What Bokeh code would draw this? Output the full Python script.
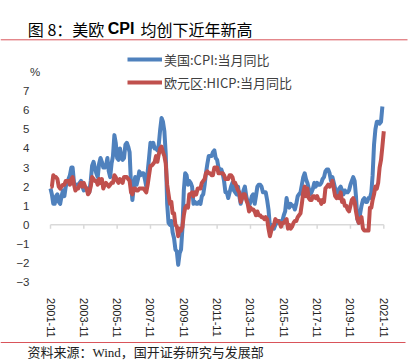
import numpy as np
from bokeh.plotting import figure
from bokeh.models import (Range1d, DatetimeAxis, LinearAxis, FixedTicker,
                          DatetimeTickFormatter, Legend, LegendItem, Label,
                          ColumnDataSource)
from bokeh.embed import file_html
from bokeh.resources import INLINE

# ---------------- data ----------------
start_month = "2001-11"
# US CPI YoY (%), monthly 2001-11 .. 2021-10
us_cpi = [1.9, 1.6,
          1.1, 1.1, 1.5, 1.6, 1.2, 1.1, 1.5, 1.8, 1.5, 2.0, 2.2, 2.4,
          2.6, 3.0, 3.0, 2.2, 2.1, 2.1, 2.1, 2.2, 2.3, 2.0, 1.8, 1.9,
          1.9, 1.7, 1.7, 2.3, 3.1, 3.3, 3.0, 2.7, 2.5, 3.2, 3.5, 3.3,
          3.0, 3.0, 3.1, 3.5, 2.8, 2.5, 3.2, 3.6, 4.7, 4.3, 3.5, 3.4,
          4.0, 3.6, 3.4, 3.5, 4.2, 4.3, 4.1, 3.8, 2.1, 1.3, 2.0, 2.5,
          2.1, 2.4, 2.8, 2.6, 2.7, 2.7, 2.4, 2.0, 2.8, 3.5, 4.3, 4.1,
          4.3, 4.0, 4.0, 3.9, 4.2, 5.0, 5.6, 5.4, 4.9, 3.7, 1.1, 0.1,
          0.0, 0.2, -0.4, -0.7, -1.3, -1.4, -2.1, -1.5, -1.3, -0.2, 1.8, 2.7,
          2.6, 2.1, 2.3, 2.2, 2.0, 1.1, 1.2, 1.1, 1.1, 1.2, 1.1, 1.5,
          1.6, 2.1, 2.7, 3.2, 3.6, 3.6, 3.6, 3.8, 3.9, 3.5, 3.4, 3.0,
          2.9, 2.9, 2.7, 2.3, 1.7, 1.7, 1.4, 1.7, 2.0, 2.2, 1.8, 1.7,
          1.6, 2.0, 1.5, 1.1, 1.4, 1.8, 2.0, 1.5, 1.2, 1.0, 1.2, 1.5,
          1.6, 1.1, 1.5, 2.0, 2.1, 2.1, 2.0, 1.7, 1.7, 1.7, 1.3, 0.8,
          -0.1, 0.0, -0.1, -0.2, 0.0, 0.1, 0.2, 0.2, 0.0, 0.2, 0.5, 0.7,
          1.4, 1.0, 0.9, 1.1, 1.0, 1.0, 0.8, 1.1, 1.5, 1.6, 1.7, 2.1,
          2.5, 2.7, 2.4, 2.2, 1.9, 1.6, 1.7, 1.9, 2.2, 2.0, 2.2, 2.1,
          2.1, 2.2, 2.4, 2.5, 2.8, 2.9, 2.9, 2.7, 2.3, 2.5, 2.2, 1.9,
          1.6, 1.5, 1.9, 2.0, 1.8, 1.6, 1.8, 1.7, 1.7, 1.8, 2.1, 2.3,
          2.5, 2.3, 1.5, 0.3, 0.1, 0.6, 1.0, 1.3, 1.4, 1.2, 1.2, 1.4,
          1.4, 1.7, 2.6, 4.2, 5.0, 5.4, 5.4, 5.3, 5.4, 6.2]
# Euro area HICP YoY (%), monthly 2001-11 .. 2021-11
ea_hicp = [2.0, 2.0,
           2.6, 2.5, 2.5, 2.4, 2.0, 1.9, 2.0, 2.1, 2.1, 2.3, 2.3, 2.3,
           2.1, 2.4, 2.5, 2.1, 1.8, 1.9, 1.9, 2.1, 2.2, 2.0, 2.2, 2.0,
           1.9, 1.6, 1.7, 2.0, 2.5, 2.4, 2.3, 2.3, 2.1, 2.4, 2.2, 2.4,
           1.9, 2.1, 2.2, 2.1, 2.0, 2.1, 2.2, 2.2, 2.6, 2.5, 2.3, 2.2,
           2.4, 2.3, 2.2, 2.5, 2.5, 2.5, 2.4, 2.3, 1.7, 1.6, 1.9, 1.9,
           1.8, 1.8, 1.9, 1.9, 1.9, 1.9, 1.8, 1.7, 2.1, 2.6, 3.1, 3.1,
           3.2, 3.3, 3.6, 3.3, 3.7, 4.0, 4.1, 3.8, 3.6, 3.2, 2.1, 1.6,
           1.1, 1.2, 0.6, 0.6, 0.0, -0.1, -0.6, -0.2, -0.3, -0.1, 0.5, 0.9,
           1.0, 0.9, 1.6, 1.6, 1.7, 1.5, 1.7, 1.6, 1.9, 1.9, 1.9, 2.2,
           2.3, 2.4, 2.7, 2.8, 2.7, 2.7, 2.6, 2.6, 3.0, 3.0, 3.0, 2.7,
           2.7, 2.7, 2.7, 2.6, 2.4, 2.4, 2.4, 2.6, 2.6, 2.5, 2.2, 2.2,
           2.0, 1.8, 1.7, 1.2, 1.4, 1.6, 1.6, 1.3, 1.1, 0.7, 0.9, 0.8,
           0.8, 0.7, 0.5, 0.7, 0.5, 0.5, 0.4, 0.4, 0.3, 0.4, 0.3, -0.2,
           -0.6, -0.3, -0.1, 0.0, 0.3, 0.2, 0.2, 0.1, -0.1, 0.1, 0.1, 0.2,
           0.3, -0.2, 0.0, -0.2, -0.1, 0.1, 0.2, 0.2, 0.4, 0.5, 0.6, 1.1,
           1.7, 2.0, 1.5, 1.9, 1.4, 1.3, 1.3, 1.5, 1.5, 1.4, 1.5, 1.3,
           1.3, 1.1, 1.3, 1.2, 1.9, 2.0, 2.1, 2.0, 2.1, 2.3, 1.9, 1.5,
           1.4, 1.5, 1.4, 1.7, 1.2, 1.3, 1.0, 1.0, 0.8, 0.7, 1.0, 1.3,
           1.4, 1.2, 0.7, 0.3, 0.1, 0.3, 0.4, -0.2, -0.3, -0.3, -0.3, -0.3,
           0.9, 0.9, 1.3, 1.6, 2.0, 1.9, 2.2, 3.0, 3.4, 4.1, 4.9]
series_names = ["美国:CPI:当月同比", "欧元区:HICP:当月同比"]
y_ticks = [-3, -2, -1, 0, 1, 2, 3, 4, 5, 6, 7]
x_tick_labels = ["2001-11", "2003-11", "2005-11", "2007-11", "2009-11", "2011-11",
                 "2013-11", "2015-11", "2017-11", "2019-11", "2021-11"]
title_parts = ["图 8：美欧", "CPI", "均创下近年新高"]
source_text = "资料来源：Wind，国开证券研究与发展部"
y_unit = "%"


def months(n):
    m0 = np.datetime64(start_month, "M")
    return (m0 + np.arange(n)).astype("datetime64[ms]")


def ms(label):
    return float(np.datetime64(label, "M").astype("datetime64[ms]").astype(np.int64))


# ---------------- geometry (pixels in the figure) ----------------
W, H = 418, 362
X_FIRST_PX, X_LAST_PX = 50.0, 383.3   # first / last tick
Y_ZERO_PX, PPU = 224.3, 19.08          # y=0 row, pixels per unit

x_ticks = [ms(s) for s in x_tick_labels]
t_first, t_last = x_ticks[0], x_ticks[-1]
mspp = (t_last - t_first) / (X_LAST_PX - X_FIRST_PX)
x_start = t_first - X_FIRST_PX * mspp
x_range = Range1d(x_start, x_start + W * mspp)
y_range = Range1d(-(H - Y_ZERO_PX) / PPU, Y_ZERO_PX / PPU)


def xd(px):
    return x_start + px * mspp


def yd(py):
    return (Y_ZERO_PX - py) / PPU


p = figure(width=W, height=H, x_range=x_range, y_range=y_range,
           x_axis_location=None, y_axis_location=None,
           toolbar_location=None, output_backend="svg", min_border=0,
           outline_line_color=None, background_fill_color="white",
           border_fill_color="white")
p.grid.visible = False

BLUE, RED = "#4F81BD", "#C0504D"
GRAY = "#D9D9D9"
RULE = "#D9545A"
src_us = ColumnDataSource(dict(x=months(len(us_cpi)), y=us_cpi))
src_ea = ColumnDataSource(dict(x=months(len(ea_hicp)), y=ea_hicp))

# zero line with tick marks at the category ticks
p.segment(x0=[t_first], y0=[0], x1=[t_last], y1=[0], line_color=GRAY, line_width=1.5)
p.segment(x0=x_ticks, y0=[0] * len(x_ticks), x1=x_ticks,
          y1=[-4.0 / PPU] * len(x_ticks), line_color=GRAY, line_width=1.5)

r_us = p.line("x", "y", source=src_us, line_color=BLUE, line_width=4,
              line_join="round")
r_ea = p.line("x", "y", source=src_ea, line_color=RED, line_width=4,
              line_join="round")

# y axis labels
yax = LinearAxis(ticker=FixedTicker(ticks=y_ticks), fixed_location=xd(37),
                 axis_line_color=None, major_tick_line_color=None,
                 minor_tick_line_color=None, major_label_standoff=2,
                 major_label_text_font="Liberation Sans",
                 major_label_text_font_size="11.5px",
                 major_label_text_color="#333333")
p.add_layout(yax, "left")

# x axis labels at bottom
fmt = "%Y-%m"
xlab = DatetimeAxis(ticker=FixedTicker(ticks=x_ticks), fixed_location=y_ticks[0],
                    formatter=DatetimeTickFormatter(
                        microseconds=fmt, milliseconds=fmt, seconds=fmt, minsec=fmt,
                        minutes=fmt, hourmin=fmt, hours=fmt, days=fmt,
                        months=fmt, years=fmt),
                    axis_line_color=None, major_tick_line_color=None,
                    minor_tick_line_color=None,
                    major_label_orientation="vertical",
                    major_label_standoff=10,
                    major_label_text_font="Liberation Sans",
                    major_label_text_font_size="11px",
                    major_label_text_color="#222222")
p.add_layout(xlab, "below")

# legend
legend = Legend(items=[LegendItem(label=series_names[0], renderers=[r_us]),
                       LegendItem(label=series_names[1], renderers=[r_ea])],
                location=(127, 270), orientation="vertical",
                label_text_font="Noto Sans CJK SC", label_text_font_size="13px",
                label_text_color="#404040", glyph_width=35, glyph_height=20,
                label_height=20, label_standoff=2, spacing=3, padding=0,
                margin=0, border_line_color=None, background_fill_alpha=0)
p.add_layout(legend)

# unit label
p.add_layout(Label(x=xd(34.7), y=yd(71), text=y_unit, text_align="center",
                   text_baseline="middle", text_font="Liberation Sans",
                   text_font_size="11.5px", text_color="#333333"))

# title
title_x = [27.3, 107.3, 140.0]
for t, tx in zip(title_parts, title_x):
    p.add_layout(Label(x=xd(tx), y=yd(28.3), text=t, text_baseline="middle",
                       text_font="Noto Sans CJK SC" if t != "CPI" else "Liberation Sans",
                       text_font_style="bold" if t == "CPI" else "normal",
                       text_font_size="16px", text_color="#000000"))

# rules (above the chart and above the source line)
p.segment(x0=[xd(0), xd(0)], y0=[yd(39.3), yd(342)],
          x1=[xd(407), xd(405)], y1=[yd(39.3), yd(342)],
          line_color=RULE, line_width=1)

# source
p.add_layout(Label(x=xd(27), y=yd(352), text=source_text, text_baseline="middle",
                   text_font="Liberation Serif, Noto Sans CJK SC",
                   text_font_size="13px", text_color="#222222"))

open("out.html", "w").write(file_html(p, INLINE))
